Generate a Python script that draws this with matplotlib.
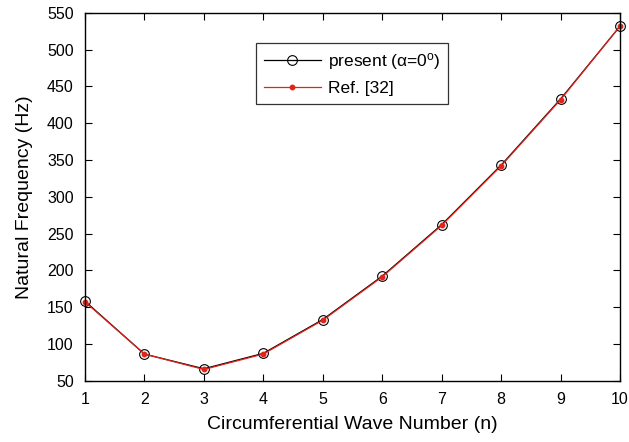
import matplotlib
matplotlib.use('Agg')
import matplotlib.pyplot as plt
import numpy as np

plt.rcParams['font.family'] = ['Liberation Sans', 'DejaVu Sans']
plt.rcParams['mathtext.fontset'] = 'custom'
plt.rcParams['mathtext.rm'] = 'Liberation Sans'
plt.rcParams['mathtext.it'] = 'Liberation Sans:italic'

# circumferential wave number
n = [1, 2, 3, 4, 5, 6, 7, 8, 9, 10]
# natural frequency (Hz), present study (alpha = 0)
present = [158, 86, 66, 87, 133, 192, 262, 343, 433, 532]
# natural frequency (Hz), Ref. [32]
ref32 = [157, 86, 65, 86, 132, 191, 261, 342, 432, 532]

yticks = [50, 100, 150, 200, 250, 300, 350, 400, 450, 500, 550]

fig = plt.figure(figsize=(6.29, 4.42), dpi=100)
ax = fig.add_axes([0.1351, 0.1391, 0.8506, 0.8315])

ax.plot(n, present, color='black', lw=0.9, marker='o', ms=7, mfc='none',
        mec='black', mew=0.8, label='present (α=0$^{\\rm o}$)', clip_on=False)
ax.plot(n, ref32, color='#e2231a', lw=0.9, marker='o', ms=3.2,
        mfc='#e2231a', mec='#e2231a', label='Ref. [32]', clip_on=False)

ax.set_xlim(1, 10)
ax.set_ylim(50, 550)
ax.set_xticks(n)
ax.set_yticks(yticks)
ax.tick_params(direction='in', top=True, right=True, length=5, width=0.8,
               labelsize=11.5, pad=8)
for s in ax.spines.values():
    s.set_linewidth(1.0)

ax.set_xlabel('Circumferential Wave Number (n)', fontsize=14, labelpad=7)
ax.set_ylabel('Natural Frequency (Hz)', fontsize=14, labelpad=10)

leg = ax.legend(loc='upper left', bbox_to_anchor=(0.3196, 0.9176), fontsize=12.5,
                frameon=True, fancybox=False, edgecolor='black',
                handlelength=3.3, handletextpad=0.4, borderpad=0.45,
                labelspacing=0.5, borderaxespad=0)
leg.get_frame().set_linewidth(0.9)

fig.savefig('out.png', dpi=100)
